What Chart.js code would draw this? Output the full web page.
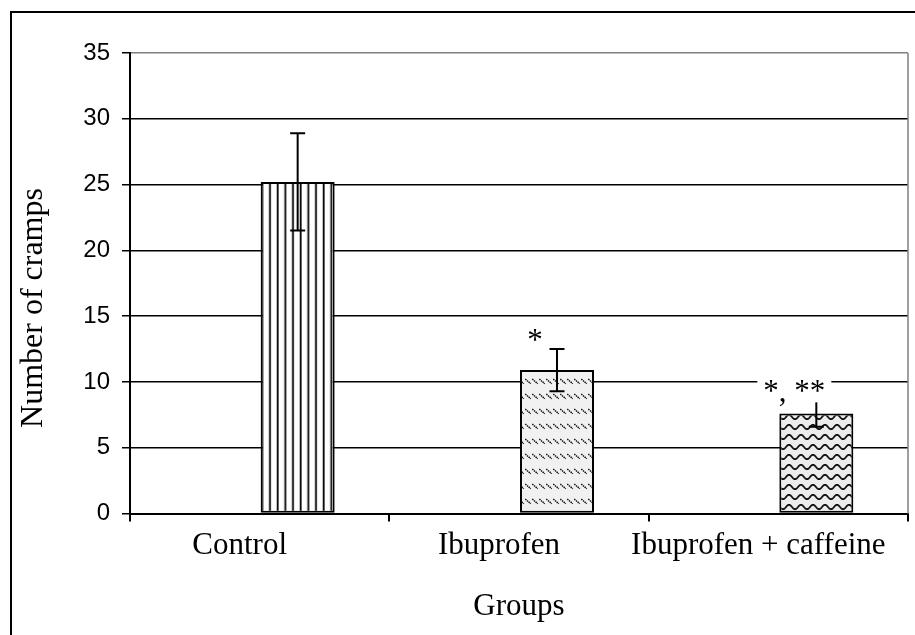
<!DOCTYPE html>
<html><head><meta charset="utf-8">
<script src="https://cdn.jsdelivr.net/npm/chart.js@4.4.0/dist/chart.umd.min.js"></script>
<style>html,body{margin:0;padding:0;background:#fff;} #wrap{width:915px;height:635px;position:relative;}</style>
</head><body><div id="wrap"><canvas id="c" width="915" height="635"></canvas></div>
<script>
const categories = ['Control', 'Ibuprofen', 'Ibuprofen + caffeine'];
const means = [25.2, 10.9, 7.6];
const errors = [3.7, 1.6, 1.0];
const significance = ['', '*', '*, **'];
const yTicks = [0, 5, 10, 15, 20, 25, 30, 35];
const xTitle = 'Groups';
const yTitle = 'Number of cramps';

function makePattern(w, h, draw, dx, dy) {
  const c = document.createElement('canvas');
  c.width = w; c.height = h;
  const g = c.getContext('2d');
  draw(g, w, h);
  const p = g.createPattern(c, 'repeat');
  if (dx || dy) p.setTransform(new DOMMatrix().translate(dx || 0, dy || 0));
  return p;
}
const patVertical = makePattern(23, 4, (g, w, h) => {
  g.fillStyle = '#fff'; g.fillRect(0, 0, w, h);
  g.fillStyle = '#000';
  [0, 7.67, 15.33].forEach(x => g.fillRect(x, 0, 1.8, h));
}, 0.7, 0);
const patDiag = makePattern(7, 15, (g, w, h) => {
  g.fillStyle = '#f1f1f1'; g.fillRect(0, 0, w, h);
  g.strokeStyle = '#111'; g.lineWidth = 1.4;
  g.setLineDash([1.5, 0.7]);
  g.beginPath(); g.moveTo(0.3, 1); g.lineTo(5.8, 5.8); g.stroke();
}, 0, 3);
const patWave = makePattern(12, 10, (g, w, h) => {
  g.fillStyle = '#ececec'; g.fillRect(0, 0, w, h);
  g.strokeStyle = '#111'; g.lineWidth = 1.8;
  g.beginPath();
  for (let x = -1; x <= w + 1; x += 0.5) {
    const y = 5 + 2.2 * Math.sin(2 * Math.PI * x / w);
    if (x === -1) g.moveTo(x, y); else g.lineTo(x, y);
  }
  g.stroke();
}, 0, 2);

const SERIF = 'Liberation Serif, Times New Roman, serif';
const SANS = 'Liberation Sans, Arial, sans-serif';

const decorPlugin = {
  id: 'decor',
  beforeDraw(chart) {
    const ctx = chart.ctx;
    ctx.save();
    ctx.fillStyle = '#fff';
    ctx.fillRect(0, 0, chart.width, chart.height);
    ctx.strokeStyle = '#000';
    ctx.lineWidth = 2;
    ctx.strokeRect(11, 12, 2000, 2000);
    ctx.restore();
  },
  afterDatasetsDraw(chart) {
    const ctx = chart.ctx;
    const ys = chart.scales.y;
    const area = chart.chartArea;
    const meta = chart.getDatasetMeta(1);
    ctx.save();
    ctx.strokeStyle = '#808080';
    ctx.lineWidth = 1.5;
    ctx.beginPath(); ctx.moveTo(area.right, area.top); ctx.lineTo(area.right, area.bottom); ctx.stroke();
    ctx.strokeStyle = '#000';
    ctx.lineWidth = 2;
    meta.data.forEach((bar, i) => {
      const yt = ys.getPixelForValue(means[i] + errors[i]);
      const yb = ys.getPixelForValue(means[i] - errors[i]);
      ctx.beginPath();
      ctx.moveTo(bar.x, yt); ctx.lineTo(bar.x, yb);
      ctx.moveTo(bar.x - 7.5, yt); ctx.lineTo(bar.x + 7.5, yt);
      ctx.moveTo(bar.x - 7.5, yb); ctx.lineTo(bar.x + 7.5, yb);
      ctx.stroke();
    });
    ctx.font = '31px ' + SERIF;
    ctx.textAlign = 'center';
    ctx.textBaseline = 'alphabetic';
    meta.data.forEach((bar, i) => {
      const txt = significance[i];
      if (!txt) return;
      const yt = ys.getPixelForValue(means[i] + errors[i]);
      const cx = bar.x - 22;
      const base = yt + 1;
      const boxTop = base - 31, boxBot = base + 1;
      const crosses = yTicks.some(v => { const p = ys.getPixelForValue(v); return p >= boxTop && p <= boxBot; });
      if (crosses) {
        ctx.fillStyle = '#fff';
        ctx.fillRect(cx - 37, boxTop, 74, boxBot - boxTop);
      }
      ctx.fillStyle = '#000';
      ctx.fillText(txt, cx, base);
    });
    ctx.restore();
  },
  afterDraw(chart) {
    const ctx = chart.ctx;
    ctx.save();
    ctx.font = '32px ' + SERIF;
    const w = ctx.measureText(yTitle).width;
    const cx = 34, cy = 308;
    ctx.fillStyle = '#fff';
    ctx.fillRect(cx - 18, cy - w / 2 - 4, 36, w + 8);
    ctx.translate(cx, cy);
    ctx.rotate(-Math.PI / 2);
    ctx.fillStyle = '#000';
    ctx.textAlign = 'center';
    ctx.textBaseline = 'middle';
    ctx.fillText(yTitle, 0, 0);
    ctx.restore();
  }
};

new Chart(document.getElementById('c'), {
  type: 'bar',
  data: {
    labels: categories,
    datasets: [
      { label: '', data: categories.map(() => null) },
      { label: yTitle, data: means, backgroundColor: [patVertical, patDiag, patWave],
        borderColor: '#000', borderWidth: 2, borderSkipped: false }
    ]
  },
  options: {
    responsive: false, animation: false, devicePixelRatio: 1,
    categoryPercentage: 0.586, barPercentage: 0.974,
    layout: { padding: { top: 53, right: 7, left: 0, bottom: 0 } },
    plugins: { legend: { display: false }, tooltip: { enabled: false } },
    scales: {
      x: {
        grid: { display: true, drawOnChartArea: false, drawTicks: true, tickLength: 8, color: '#000', lineWidth: 2 },
        border: { display: true, color: '#000', width: 2 },
        ticks: { font: { family: SERIF, size: 31 }, color: '#000', labelOffset: -20, padding: 6, maxRotation: 0, autoSkip: false },
        title: { display: true, text: xTitle, font: { family: SERIF, size: 31 }, color: '#000', padding: { top: 0, bottom: 10 } },
        afterFit(s) { s.height = 635 - 513.5; }
      },
      y: {
        min: 0, max: 35,
        afterBuildTicks(s) { s.ticks = yTicks.map(v => ({ value: v })); },
        ticks: { font: { family: SANS, size: 24 }, color: '#000', padding: 12 },
        grid: { color: c => (c.tick && c.tick.value === 35) ? '#808080' : '#000', tickColor: '#000', lineWidth: 1.5, tickLength: 8, drawTicks: true },
        border: { color: '#000', width: 2 },
        afterFit(s) { s.width = 130; }
      }
    }
  },
  plugins: [decorPlugin]
});
</script>
</body></html>
